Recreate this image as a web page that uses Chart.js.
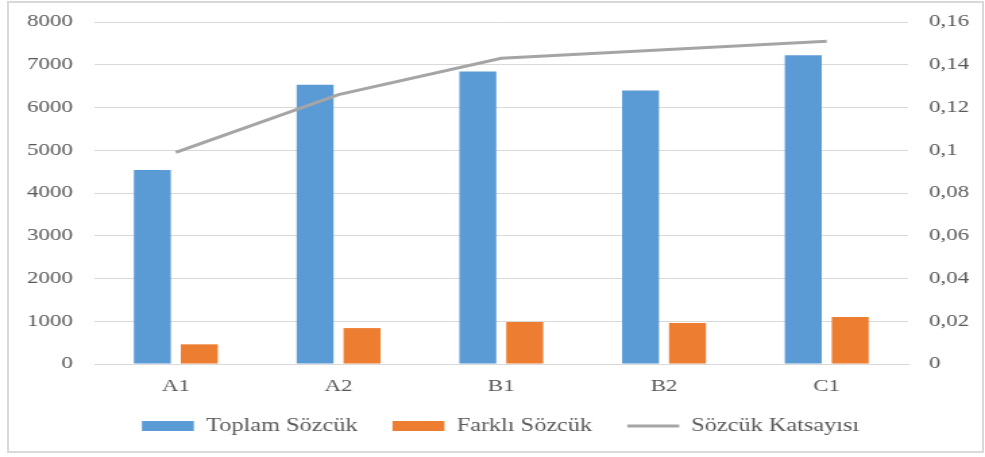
<!DOCTYPE html>
<html>
<head>
<meta charset="utf-8">
<script src="https://cdn.jsdelivr.net/npm/chart.js@4"></script>
<style>
  html, body { margin: 0; padding: 0; background: #fff; }
  #frame { position: absolute; left: 7px; top: 1px; width: 977px; height: 452px; border: 2px solid #d9d9d9; box-sizing: border-box; }
  /* the reference is stretched horizontally, so draw narrow and stretch */
  #wrap { position: absolute; left: 0; top: 0; width: 730px; height: 457px; transform: scaleX(1.3493); transform-origin: 0 0; }
</style>
</head>
<body>
<div id="frame"></div>
<div id="wrap"><canvas id="comboChart"></canvas></div>
<script>
const categories = ['A1', 'A2', 'B1', 'B2', 'C1'];
const toplamSozcuk = [4540, 6530, 6840, 6400, 7220];
const farkliSozcuk = [460, 840, 980, 960, 1100];
const sozcukKatsayisi = [0.099, 0.126, 0.143, 0.147, 0.151];
const leftTickLabels = ['0', '1000', '2000', '3000', '4000', '5000', '6000', '7000', '8000'];
const rightTickLabels = ['0', '0,02', '0,04', '0,06', '0,08', '0,1', '0,12', '0,14', '0,16'];

const tickFont = { family: '"Liberation Serif", "Times New Roman", serif', size: 17 };

let chartElement = document.getElementById('comboChart');

// fix the axis box sizes so the plot area lands where the reference has it
function fixVertical(width) {
    return (scale) => {
        scale.width = width;
        scale.paddingTop = 0;
        scale.paddingBottom = 0;
    };
}

const data = {
    labels: categories,
    datasets: [{
        label: 'Toplam Sözcük',
        data: toplamSozcuk,
        backgroundColor: '#5B9BD5',
        pointStyle: 'rect',
        categoryPercentage: 0.577,
        barPercentage: 0.787,
        yAxisID: 'y',
        order: 1
    }, {
        label: 'Farklı Sözcük',
        data: farkliSozcuk,
        backgroundColor: '#ED7D31',
        pointStyle: 'rect',
        categoryPercentage: 0.577,
        barPercentage: 0.787,
        yAxisID: 'y',
        order: 2
    }, {
        type: 'line',
        label: 'Sözcük Katsayısı',
        data: sozcukKatsayisi,
        borderColor: '#A5A5A5',
        backgroundColor: '#A5A5A5',
        borderWidth: 3,
        pointRadius: 0,
        pointStyle: 'line',
        tension: 0,
        yAxisID: 'y1',
        order: 0 // keep line above bars
    }]
};

const config = {
    type: 'bar',
    data: data,
    options: {
        responsive: true,
        maintainAspectRatio: false,
        animation: false,
        layout: { padding: { top: 22, bottom: 12, left: 12, right: 0 } },
        plugins: {
            tooltip: { enabled: false },
            legend: {
                position: 'bottom',
                labels: {
                    usePointStyle: true,
                    pointStyleWidth: 38.5,
                    boxHeight: 10,
                    padding: 26,
                    color: '#595959',
                    font: { family: tickFont.family, size: 18 },
                    sort: (a, b) => a.datasetIndex - b.datasetIndex
                }
            }
        },
        scales: {
            x: {
                grid: { display: false },
                border: { display: true, color: '#d9d9d9' },
                ticks: { color: '#595959', font: tickFont, padding: 4 },
                afterFit: (scale) => { scale.height = 27; }
            },
            y: {
                position: 'left',
                min: 0,
                max: 8000,
                ticks: {
                    stepSize: 1000,
                    color: '#595959',
                    font: tickFont,
                    padding: 16,
                    callback: (value, index) => leftTickLabels[index]
                },
                grid: { color: '#d9d9d9', drawTicks: false },
                border: { display: false },
                afterFit: fixVertical(58)
            },
            y1: {
                position: 'right',
                min: 0,
                max: 0.16,
                ticks: {
                    stepSize: 0.02,
                    color: '#595959',
                    font: tickFont,
                    padding: 15.5,
                    callback: (value, index) => rightTickLabels[index]
                },
                grid: { display: false, drawTicks: false },
                border: { display: false },
                afterFit: fixVertical(57)
            }
        }
    }
};

let comboChart = new Chart(chartElement, config);
</script>
</body>
</html>
